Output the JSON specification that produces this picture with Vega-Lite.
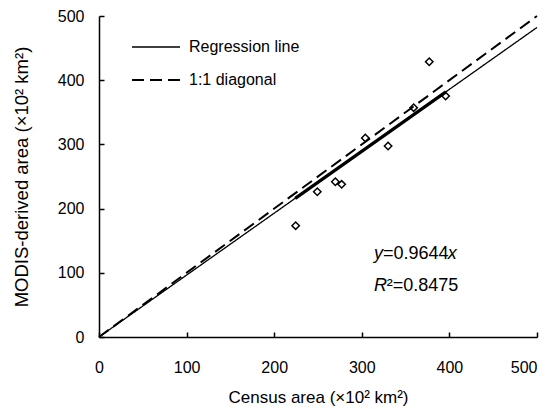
{
  "$schema": "https://vega.github.io/schema/vega-lite/v6.json",
  "width": 438,
  "height": 321,
  "autosize": "none",
  "padding": {"left": 99, "top": 16, "right": 12, "bottom": 72},
  "config": {
    "view": {"stroke": null},
    "font": "Liberation Sans",
    "axis": {
      "grid": false,
      "domainColor": "black",
      "domainWidth": 1.5,
      "tickColor": "black",
      "tickWidth": 1.5,
      "tickSize": -5,
      "labelColor": "black",
      "labelFont": "Liberation Sans",
      "labelFontSize": 16,
      "titleColor": "black",
      "titleFont": "Liberation Sans",
      "titleFontWeight": "normal"
    }
  },
  "datasets": {
    "points": [
      {"census": 224.5, "modis": 173.4},
      {"census": 249.2, "modis": 226.3},
      {"census": 269.8, "modis": 241.9},
      {"census": 277.0, "modis": 237.8},
      {"census": 304.0, "modis": 310.0},
      {"census": 330.0, "modis": 297.5},
      {"census": 359.2, "modis": 357.2},
      {"census": 377.0, "modis": 428.8},
      {"census": 395.7, "modis": 375.4}
    ],
    "lines": [
      {"series": "Regression line", "census": 0, "modis": 0},
      {"series": "Regression line", "census": 500, "modis": 482.2},
      {"series": "1:1 diagonal", "census": 0, "modis": 0},
      {"series": "1:1 diagonal", "census": 500, "modis": 500}
    ],
    "fit": [
      {"census": 224, "modis": 216.0},
      {"census": 396, "modis": 381.9}
    ],
    "italic": [
      {"census": 313.9, "modis": 129.5, "t": "y"},
      {"census": 398.0, "modis": 129.5, "t": "x"},
      {"census": 313.9, "modis": 79.5, "t": "R"}
    ],
    "plain": [
      {"census": 324.2, "modis": 129.5, "t": "=0.9644"},
      {"census": 328.5, "modis": 79.5, "t": "²=0.8475"}
    ]
  },
  "layer": [
    {
      "data": {"name": "lines"},
      "mark": {"type": "line", "color": "black", "strokeCap": "butt"},
      "encoding": {
        "x": {
          "field": "census", "type": "quantitative",
          "scale": {"domain": [0, 500], "nice": false},
          "axis": {"title": "Census area (×10² km²)", "values": [0, 100, 200, 300, 400, 500], "labelPadding": 27, "titlePadding": 14, "titleFontSize": 17,
            "labelAlign": {"condition": {"test": "datum.value == 500", "value": "right"}, "value": "center"}}
        },
        "y": {
          "field": "modis", "type": "quantitative",
          "scale": {"domain": [0, 500], "nice": false},
          "axis": {"title": "MODIS-derived area (×10² km²)", "values": [0, 100, 200, 300, 400, 500], "labelPadding": 20, "titlePadding": 26, "titleFontSize": 18.5}
        },
        "detail": {"field": "series"},
        "strokeDash": {
          "field": "series", "type": "nominal",
          "scale": {"domain": ["Regression line", "1:1 diagonal"], "range": [[1, 0], [12, 6]]},
          "legend": {
            "title": null, "orient": "none", "legendX": 32, "legendY": 6,
            "symbolType": "stroke", "symbolSize": 2304, "symbolStrokeWidth": 2, "symbolStrokeColor": "black",
            "labelFontSize": 16, "labelFont": "Liberation Sans", "labelColor": "black", "labelOffset": 8,
            "rowPadding": -17
          }
        },
        "strokeWidth": {
          "field": "series", "type": "nominal",
          "scale": {"domain": ["Regression line", "1:1 diagonal"], "range": [1.3, 2]},
          "legend": null
        }
      }
    },
    {
      "data": {"name": "fit"},
      "mark": {"type": "line", "color": "black", "strokeWidth": 3.2},
      "encoding": {
        "x": {"field": "census", "type": "quantitative"},
        "y": {"field": "modis", "type": "quantitative"}
      }
    },
    {
      "data": {"name": "points"},
      "mark": {"type": "point", "shape": "diamond", "filled": false, "color": "black", "strokeWidth": 1.5, "size": 55, "opacity": 1},
      "encoding": {
        "x": {"field": "census", "type": "quantitative"},
        "y": {"field": "modis", "type": "quantitative"}
      }
    },
    {
      "data": {"name": "italic"},
      "mark": {"type": "text", "align": "left", "baseline": "middle", "fontStyle": "italic", "fontSize": 18, "color": "black", "font": "Liberation Sans"},
      "encoding": {
        "x": {"field": "census", "type": "quantitative"},
        "y": {"field": "modis", "type": "quantitative"},
        "text": {"field": "t"}
      }
    },
    {
      "data": {"name": "plain"},
      "mark": {"type": "text", "align": "left", "baseline": "middle", "fontSize": 18, "color": "black", "font": "Liberation Sans"},
      "encoding": {
        "x": {"field": "census", "type": "quantitative"},
        "y": {"field": "modis", "type": "quantitative"},
        "text": {"field": "t"}
      }
    }
  ]
}
